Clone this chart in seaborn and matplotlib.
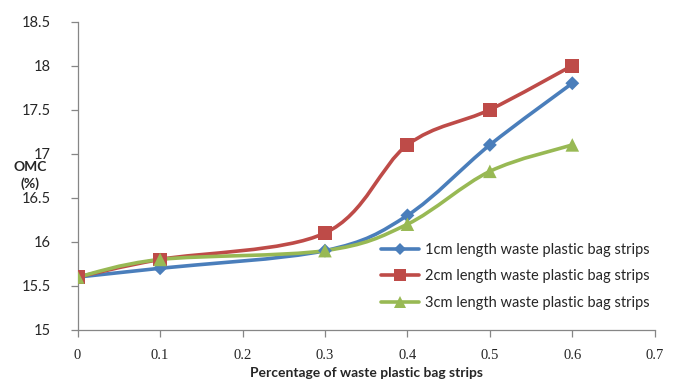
import numpy as np
import pandas as pd
import seaborn as sns
import matplotlib
matplotlib.use("Agg")
import matplotlib.pyplot as plt
from matplotlib.path import Path
from matplotlib.patches import PathPatch
from matplotlib.lines import Line2D

# Data
pct = [0, 0.1, 0.3, 0.4, 0.5, 0.6]
omc_1cm = [15.6, 15.7, 15.9, 16.3, 17.1, 17.8]
omc_2cm = [15.6, 15.8, 16.1, 17.1, 17.5, 18.0]
omc_3cm = [15.6, 15.8, 15.9, 16.2, 16.8, 17.1]
series_names = [
    "1cm length waste plastic bag strips",
    "2cm length waste plastic bag strips",
    "3cm length waste plastic bag strips",
]
x_ticks = [0, 0.1, 0.2, 0.3, 0.4, 0.5, 0.6, 0.7]
y_ticks = [15, 15.5, 16, 16.5, 17, 17.5, 18, 18.5]

colors = ["#4A7EBB", "#BE4B48", "#98B954"]
markers = ["D", "s", "^"]
msizes = [50, 100, 95]

sns.set_theme(style="white")
plt.rcParams["font.family"] = ["Lato", "DejaVu Sans"]

fig = plt.figure(figsize=(6.75, 3.85), dpi=100)
ax = fig.add_axes([0.115, 0.143, 0.855, 0.801])

df = pd.DataFrame({
    "pct": pct * 3,
    "omc": omc_1cm + omc_2cm + omc_3cm,
    "series": sum([[n] * len(pct) for n in series_names], []),
})


def smooth_path(xs, ys):
    """Cubic Bezier path through the points (Catmull-Rom style tangents)."""
    pts = np.column_stack([xs, ys]).astype(float)
    n = len(pts)
    verts = [pts[0]]
    codes = [Path.MOVETO]
    for i in range(n - 1):
        p0 = pts[i - 1] if i > 0 else pts[i]
        p1 = pts[i]
        p2 = pts[i + 1]
        p3 = pts[i + 2] if i + 2 < n else pts[i + 1]
        c1 = p1 + (p2 - p0) / 6.0
        c2 = p2 - (p3 - p1) / 6.0
        verts += [c1, c2, p2]
        codes += [Path.CURVE4] * 3
    return Path(verts, codes)


for name, col in zip(series_names, colors):
    sub = df[df["series"] == name]
    patch = PathPatch(smooth_path(sub["pct"], sub["omc"]), facecolor="none",
                      edgecolor=col, lw=2.6, capstyle="round", zorder=2)
    ax.add_patch(patch)

sns.scatterplot(data=df, x="pct", y="omc", hue="series", style="series",
                palette=colors, markers=markers, size="series",
                sizes=dict(zip(series_names, msizes)), linewidth=0,
                legend=False, ax=ax, zorder=3)

ax.set_xlim(0, 0.7)
ax.set_ylim(15, 18.5)
ax.set_xticks(x_ticks)
ax.set_yticks(y_ticks)
ax.set_xticklabels([f"{v:g}" for v in x_ticks], family=["Liberation Serif"],
                   fontsize=10.5)
ax.set_yticklabels([f"{v:g}" for v in y_ticks], fontsize=10.5)

for s in ["top", "right"]:
    ax.spines[s].set_visible(False)
for s in ["left", "bottom"]:
    ax.spines[s].set_color("#868686")
    ax.spines[s].set_linewidth(0.9)
ax.tick_params(axis="both", which="both", direction="out", length=5,
               width=0.9, color="#868686", bottom=True, left=True)
ax.tick_params(axis="x", pad=9)
ax.tick_params(axis="y", pad=14)

ax.set_xlabel("Percentage of waste plastic bag strips", fontsize=10,
              fontweight="bold", labelpad=3)
ax.set_ylabel("")
fig.text(0.045, 0.545, "OMC\n(%)", fontsize=10, fontweight="bold",
         ha="center", va="center", linespacing=1.4)

handles = [Line2D([0], [0], color=c, lw=2.6, marker=m,
                  markersize=s, markeredgewidth=0)
           for c, m, s in zip(colors, markers, [6, 9, 9])]
ax.legend(handles, series_names, loc="upper left",
          bbox_to_anchor=(0.503, 0.325), frameon=False, fontsize=10.5,
          handlelength=2.6, labelspacing=0.85, handletextpad=0.4)

fig.savefig("out.png", dpi=100)
